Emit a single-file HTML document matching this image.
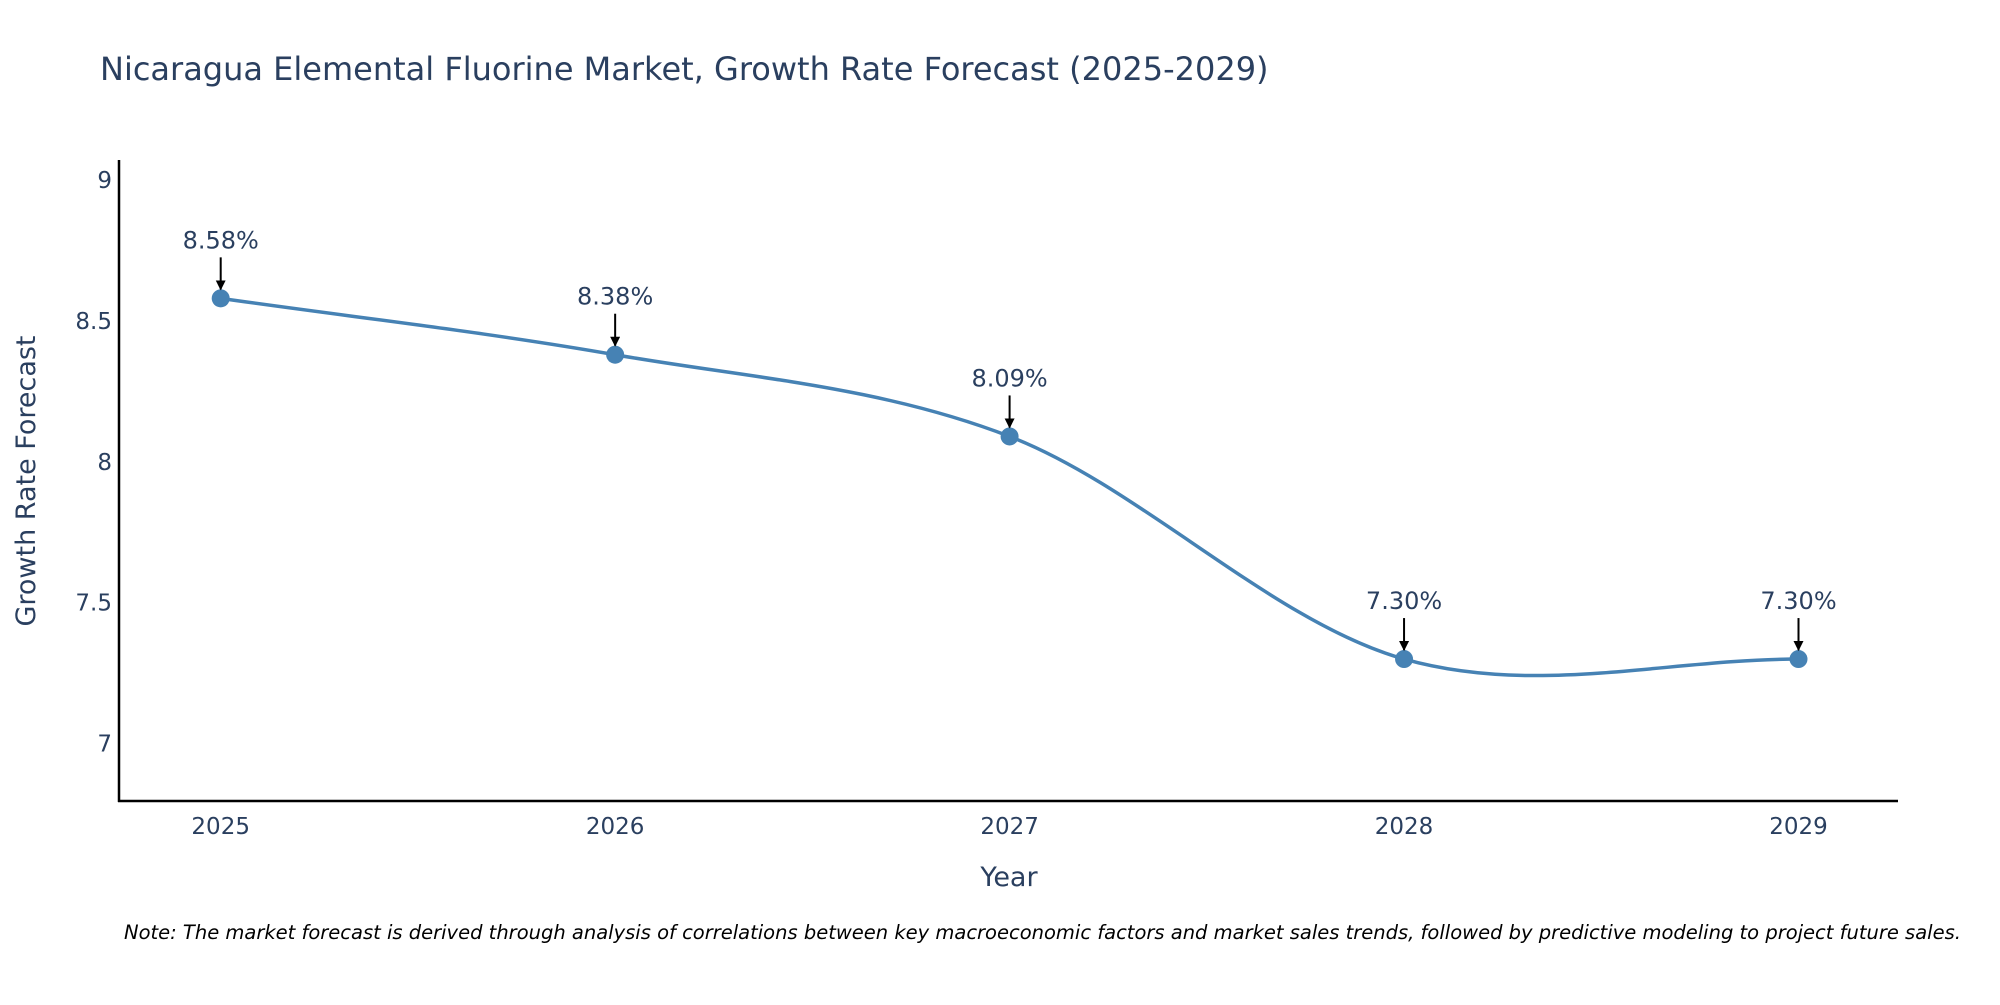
<!DOCTYPE html>
<html><head><meta charset="utf-8"><style>
body{margin:0;background:#fff;}
svg text{font-family:"DejaVu Sans","Liberation Sans",sans-serif;fill:#2a3f5f;}
</style></head><body>
<svg id="chart" width="2000" height="1000" viewBox="0 0 2000 1000" xmlns="http://www.w3.org/2000/svg">
<defs><marker id="ah" viewBox="0 0 10 10" refX="9" refY="5" markerWidth="5" markerHeight="5" orient="auto"><path d="M0,0 L10,5 L0,10 z" fill="#000"/></marker></defs>
<text x="100" y="80" font-size="32">Nicaragua Elemental Fluorine Market, Growth Rate Forecast (2025-2029)</text>
<g id="yticks"></g><g id="xticks"></g>
<line x1="119" y1="160" x2="119" y2="802" stroke="#000" stroke-width="2.5"/>
<line x1="118" y1="801" x2="1898" y2="801" stroke="#000" stroke-width="2.5"/>
<path id="line" fill="none" stroke="#4682b4" stroke-width="3.5"/>
<g id="marks"></g>
<text x="1009" y="886" font-size="27" text-anchor="middle">Year</text>
<text transform="translate(35,481) rotate(-90)" font-size="27" text-anchor="middle">Growth Rate Forecast</text>
<text x="124" y="939" font-size="19.5" font-style="italic" style="fill:#000">Note: The market forecast is derived through analysis of correlations between key macroeconomic factors and market sales trends, followed by predictive modeling to project future sales.</text>
</svg>
<script>
const years=[2025,2026,2027,2028,2029];
const values=[8.58,8.38,8.09,7.30,7.30];
const labels=["8.58%","8.38%","8.09%","7.30%","7.30%"];
const yTicks=[7,7.5,8,8.5,9];
const yTickLabels=["7","7.5","8","8.5","9"];
const NS="http://www.w3.org/2000/svg";
const xs=y=>220.7+(y-2025)*(1798.5-220.7)/4;
const ys=v=>743.6-(v-7)*(743.6-180)/2;
function mk(t,a,p){const e=document.createElementNS(NS,t);for(const k in a)e.setAttribute(k,a[k]);p.appendChild(e);return e;}
const yt=document.getElementById('yticks');
yTicks.forEach((t,i)=>{const e=mk('text',{x:112,y:ys(t)+8,'font-size':23,'text-anchor':'end'},yt);e.textContent=yTickLabels[i];

});
const xt=document.getElementById('xticks');
years.forEach(y=>{const e=mk('text',{x:xs(y),y:834,'font-size':23,'text-anchor':'middle'},xt);e.textContent=y;

});
const P=years.map((y,i)=>[xs(y),ys(values[i])]);
const n=P.length;
const T=P.map((p,i)=>{const a=P[Math.max(0,i-1)],b=P[Math.min(n-1,i+1)];const k=(i==0||i==n-1)?1:0.5;return [(b[0]-a[0])*k,(b[1]-a[1])*k];});
let d='M'+P[0][0]+','+P[0][1];
for(let i=0;i<n-1;i++){
 const p1=P[i],p2=P[i+1];
 const c1=[p1[0]+T[i][0]/3,p1[1]+T[i][1]/3];
 const c2=[p2[0]-T[i+1][0]/3,p2[1]-T[i+1][1]/3];
 d+=' C'+c1[0]+','+c1[1]+' '+c2[0]+','+c2[1]+' '+p2[0]+','+p2[1];
}
document.getElementById('line').setAttribute('d',d);
const g=document.getElementById('marks');
P.forEach((p,i)=>{
 const c=mk('circle',{cx:p[0],cy:p[1],r:9,fill:'#4682b4'},g);
 
 
 const a=mk('line',{x1:p[0],y1:p[1]-41,x2:p[0],y2:p[1]-9,stroke:'#000','stroke-width':2,'marker-end':'url(#ah)'},g);
 
 
 const t=mk('text',{x:p[0],y:p[1]-50,'font-size':24,'text-anchor':'middle'},g);
 t.textContent=labels[i];
 
 
});
</script>
</body></html>
